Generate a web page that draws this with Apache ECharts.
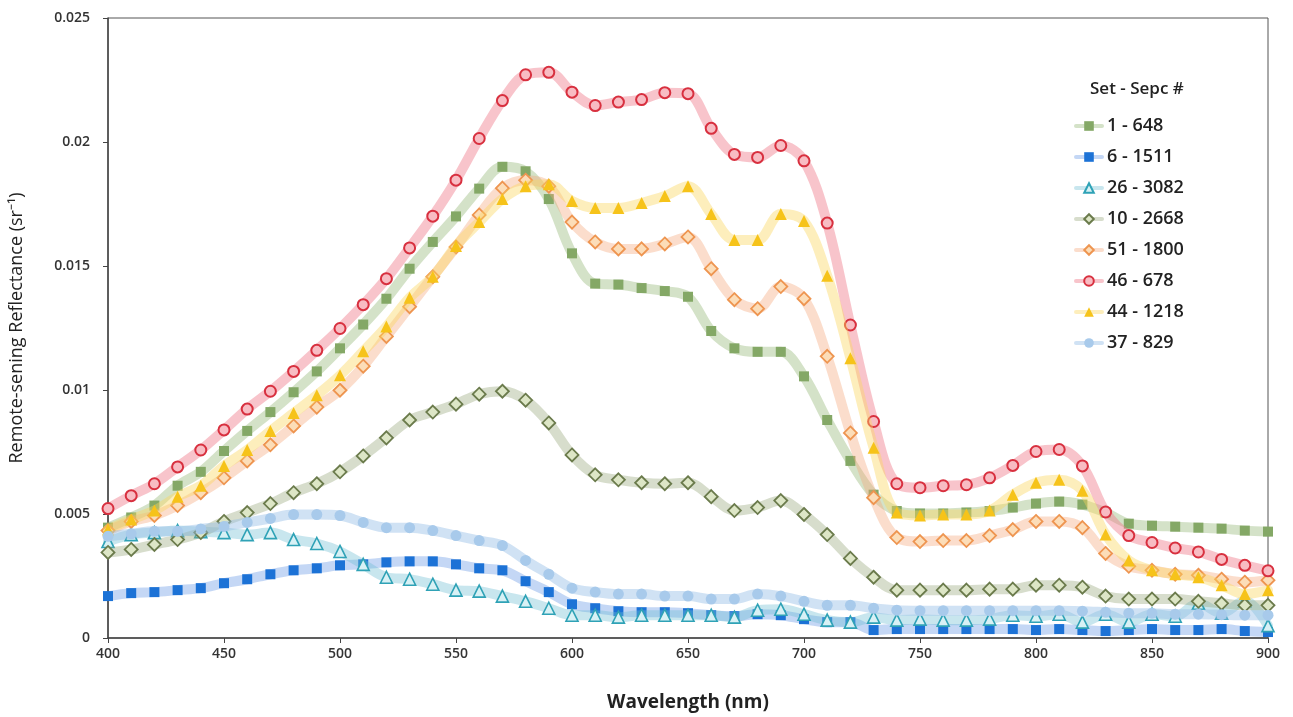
<!DOCTYPE html>
<html>
<head>
<meta charset="utf-8">
<script src="https://cdn.jsdelivr.net/npm/echarts@6/dist/echarts.min.js"></script>
<style>
  html, body { margin: 0; padding: 0; background: #fff; }
  #chart { width: 1293px; height: 717px; }
</style>
</head>
<body>
<div id="chart"></div>
<script>
// Wavelengths 400–900 nm, sampled every 10 nm
const wavelengths = [];
for (let w = 400; w <= 900; w += 10) wavelengths.push(w);

const xTicks = [400, 450, 500, 550, 600, 650, 700, 750, 800, 850, 900];
const yTicks = [0, 0.005, 0.01, 0.015, 0.02, 0.025];

const legendTitle = 'Set - Sepc #';
const seriesNames = ['1 - 648', '6 - 1511', '26 - 3082', '10 - 2668', '51 - 1800', '46 - 678', '44 - 1218', '37 - 829'];

const rs_1_648 = [
  0.00445,0.00486,0.00534,0.00614,0.0067,0.00754,0.00835,0.00911,0.00991,0.01075,
  0.01168,0.01264,0.01368,0.01489,0.01597,0.017,0.01812,0.019,0.01882,0.0177,
  0.01551,0.01429,0.01425,0.01411,0.01399,0.01376,0.01238,0.01168,0.01154,0.01154,
  0.01055,0.00879,0.00714,0.00578,0.00512,0.00502,0.00502,0.00506,0.00512,0.00526,
  0.00542,0.0055,0.00538,0.00506,0.00461,0.00453,0.00449,0.00445,0.00441,0.00433,
  0.00429];
const rs_6_1511 = [
  0.00169,0.00181,0.00185,0.00193,0.00201,0.00221,0.00237,0.00257,0.00273,0.00281,
  0.00293,0.00297,0.00305,0.00309,0.00309,0.00297,0.00281,0.00273,0.00229,0.00185,
  0.00136,0.0012,0.00108,0.00104,0.00104,0.001,0.00092,0.00088,0.00096,0.00092,
  0.00076,0.00064,0.00064,0.00032,0.00036,0.00036,0.00036,0.00036,0.00036,0.00036,
  0.00032,0.00036,0.00032,0.00028,0.00032,0.00036,0.00032,0.00032,0.00036,0.00028,
  0.00024];
const rs_26_3082 = [
  0.00389,0.00417,0.00425,0.00433,0.00429,0.00425,0.00417,0.00425,0.00397,0.00381,
  0.00349,0.00297,0.00245,0.00237,0.00217,0.00193,0.00189,0.00169,0.00148,0.0012,
  0.00092,0.00092,0.00084,0.00092,0.00092,0.00092,0.00092,0.00084,0.00112,0.00116,
  0.00096,0.00072,0.00064,0.00084,0.00072,0.00076,0.00072,0.00072,0.00076,0.00092,
  0.00088,0.00096,0.00064,0.00096,0.00064,0.00096,0.00088,0.0014,0.001,0.0015,
  0.0005];
const rs_10_2668 = [
  0.00345,0.00357,0.00377,0.00397,0.00425,0.0047,0.00506,0.00542,0.00586,0.00622,
  0.0067,0.00734,0.00807,0.00879,0.00911,0.00943,0.00983,0.00995,0.00959,0.00867,
  0.00738,0.00658,0.00638,0.00626,0.00622,0.00626,0.0057,0.00514,0.00526,0.00554,
  0.00498,0.00417,0.00321,0.00245,0.00193,0.00193,0.00193,0.00193,0.00197,0.00197,
  0.00213,0.00213,0.00205,0.00169,0.00157,0.00157,0.00157,0.00148,0.0014,0.00132,
  0.00132];
const rs_51_1800 = [
  0.00433,0.0047,0.00494,0.00534,0.00586,0.00646,0.00714,0.00779,0.00855,0.00931,
  0.00999,0.01096,0.01216,0.01336,0.01457,0.01577,0.01706,0.01814,0.01846,0.01822,
  0.01677,0.01597,0.01569,0.01569,0.01589,0.01617,0.01489,0.01364,0.01328,0.01417,
  0.01368,0.01136,0.00827,0.00566,0.00405,0.00389,0.00393,0.00393,0.00413,0.00437,
  0.0047,0.0047,0.00445,0.00341,0.00289,0.00273,0.00257,0.00253,0.00237,0.00225,
  0.00233];
const rs_46_678 = [
  0.00522,0.00574,0.00622,0.0069,0.00758,0.00839,0.00923,0.00995,0.01075,0.0116,
  0.01248,0.01344,0.01449,0.01573,0.01701,0.01846,0.02014,0.02167,0.02271,0.02281,
  0.02201,0.02147,0.02161,0.02171,0.02199,0.02195,0.02055,0.0195,0.01938,0.01986,
  0.01924,0.01673,0.01262,0.00873,0.00622,0.00606,0.00614,0.00618,0.00646,0.00696,
  0.00752,0.0076,0.00694,0.00508,0.00413,0.00385,0.00363,0.00347,0.00317,0.00293,
  0.00271];
const rs_44_1218 = [
  0.00437,0.00478,0.00514,0.0057,0.00614,0.00694,0.00758,0.00835,0.00907,0.00979,
  0.01059,0.01156,0.01256,0.01372,0.01457,0.01581,0.01677,0.0177,0.01822,0.0183,
  0.01762,0.01734,0.01734,0.01754,0.01782,0.01822,0.0171,0.01605,0.01605,0.0171,
  0.01681,0.01461,0.01128,0.00767,0.00506,0.00494,0.00498,0.00498,0.00514,0.00578,
  0.00626,0.00638,0.00594,0.00417,0.00313,0.00273,0.00257,0.00245,0.00213,0.00177,
  0.00193];
const rs_37_829 = [
  0.0041,0.0042,0.0043,0.0043,0.0044,0.0045,0.00466,0.00482,0.00498,0.00498,
  0.00494,0.00466,0.00445,0.00445,0.00433,0.00413,0.00393,0.00373,0.00313,0.00257,
  0.00201,0.00185,0.00177,0.00177,0.00169,0.00169,0.00157,0.00157,0.00177,0.00169,
  0.00148,0.00132,0.00132,0.0012,0.00112,0.0011,0.0011,0.0011,0.0011,0.0011,
  0.0011,0.0011,0.00108,0.00104,0.001,0.001,0.00096,0.00096,0.00094,0.00092,
  0.00092];

const seriesValues = [rs_1_648, rs_6_1511, rs_26_3082, rs_10_2668, rs_51_1800, rs_46_678, rs_44_1218, rs_37_829];

// Per-series look: wide translucent band + marker
const styles = [
  { symbol: 'rect',     band: 'rgba(143,178,110,0.38)', fill: '#84A866', border: '#84A866', bw: 0, size: 10 },
  { symbol: 'rect',     band: 'rgba(100,150,230,0.38)', fill: '#1C72D6', border: '#1C72D6', bw: 0, size: 10 },
  { symbol: 'triangle', band: 'rgba(110,190,210,0.38)', fill: '#D8F1F5', border: '#2FA2B6', bw: 1.6, size: 12 },
  { symbol: 'diamond',  band: 'rgba(150,165,120,0.38)', fill: '#DDE6C6', border: '#6B7B4C', bw: 1.8, size: 13 },
  { symbol: 'diamond',  band: 'rgba(245,165,120,0.38)', fill: '#FCDDB8', border: '#EE9550', bw: 1.8, size: 13 },
  { symbol: 'circle',   band: 'rgba(240,125,140,0.45)', fill: '#F8BCC3', border: '#D8303F', bw: 2,   size: 11 },
  { symbol: 'triangle', band: 'rgba(250,215,95,0.42)',  fill: '#F6C31A', border: '#F6C31A', bw: 0, size: 12 },
  { symbol: 'circle',   band: 'rgba(150,190,230,0.45)', fill: '#A8CAEB', border: '#A8CAEB', bw: 0, size: 11 }
];

const series = seriesNames.map((name, i) => ({
  name: name,
  type: 'line',
  smooth: 0.35,
  data: wavelengths.map((w, j) => [w, seriesValues[i][j]]),
  symbol: styles[i].symbol,
  symbolSize: styles[i].size,
  showAllSymbol: true,
  lineStyle: { width: 10, color: styles[i].band, cap: 'round', join: 'round' },
  itemStyle: { color: styles[i].fill, borderColor: styles[i].border, borderWidth: styles[i].bw, opacity: 1 },
  emphasis: { disabled: true },
  z: 2 + i
}));

const chart = echarts.init(document.getElementById('chart'), null, { renderer: 'canvas' });

const tickFont = { fontFamily: 'Open Sans', fontSize: 14, fontWeight: 600, color: '#333' };

chart.setOption({
  animation: false,
  backgroundColor: '#fff',
  title: {
    text: legendTitle,
    left: 1085,
    top: 76,
    textStyle: { fontFamily: 'Open Sans', fontSize: 17, fontWeight: 600, color: '#222' }
  },
  legend: {
    orient: 'vertical',
    left: 1074,
    top: 117,
    padding: 0,
    itemWidth: 26,
    itemHeight: 12,
    itemGap: 13,
    lineStyle: { width: 4 },
    textStyle: { fontFamily: 'Open Sans', fontSize: 18, fontWeight: 600, color: '#222', lineHeight: 18 },
    data: seriesNames
  },
  grid: {
    left: 107, right: 25, top: 18, bottom: 76,
    show: true, borderColor: '#555', borderWidth: 1, backgroundColor: 'transparent'
  },
  xAxis: {
    type: 'value',
    min: 400, max: 900, interval: 50,
    name: 'Wavelength (nm)',
    nameLocation: 'middle',
    nameGap: 55,
    nameTextStyle: { fontFamily: 'Open Sans', fontSize: 19, fontWeight: 700, color: '#222' },
    axisLine: { show: true, lineStyle: { color: '#444', width: 1.5 } },
    axisTick: { show: true, length: 5, lineStyle: { color: '#444' } },
    axisLabel: Object.assign({ margin: 9, formatter: v => xTicks.includes(v) ? String(v) : '' }, tickFont),
    splitLine: { show: false }
  },
  yAxis: {
    type: 'value',
    min: 0, max: 0.025, interval: 0.005,
    name: 'Remote-sening Reflectance (sr\u207B\u00B9)',
    nameLocation: 'middle',
    nameGap: 82,
    nameTextStyle: { fontFamily: 'Open Sans', fontSize: 18, fontWeight: 500, color: '#222' },
    axisLine: { show: true, lineStyle: { color: '#444', width: 1.5 } },
    axisTick: { show: true, length: 5, lineStyle: { color: '#444' } },
    axisLabel: Object.assign({
      margin: 18,
      formatter: v => {
        const t = yTicks.find(k => Math.abs(k - v) < 1e-9);
        return t === undefined ? '' : String(t);
      }
    }, tickFont),
    splitLine: { show: false }
  },
  series: series
});
</script>
</body>
</html>
